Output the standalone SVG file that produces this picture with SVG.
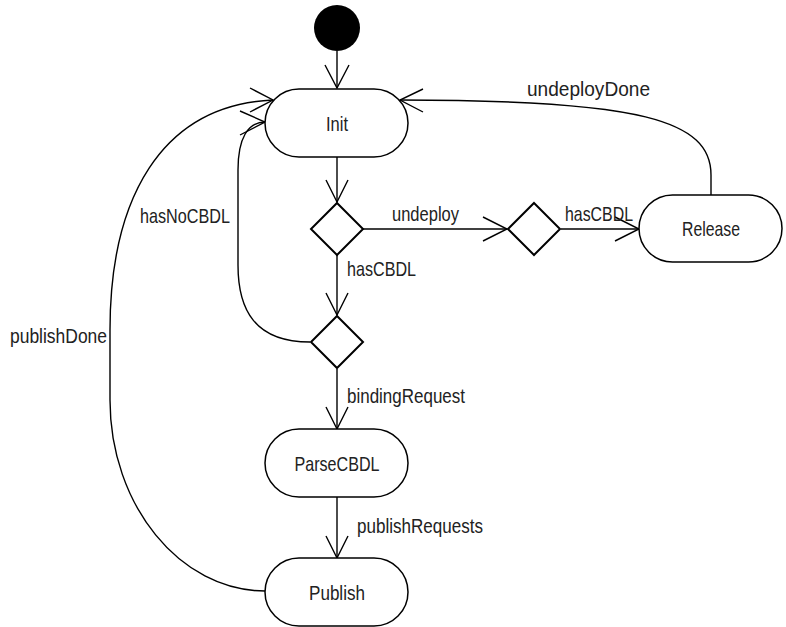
<svg xmlns="http://www.w3.org/2000/svg" width="786" height="627" viewBox="0 0 786 627">
<style>
.node{fill:#fff;stroke:#000;stroke-width:1.5}
.dia{fill:#fff;stroke:#000;stroke-width:2}
.edge{fill:none;stroke:#000;stroke-width:1.4}
.head{fill:none;stroke:#000;stroke-width:1.4}
text{font-family:"Liberation Sans",Arial,sans-serif;font-size:21px;fill:#222;dominant-baseline:central}
.c{text-anchor:middle}
</style>
<rect width="786" height="627" fill="#fff"/>
<g id="connectors">
  <path class="edge" d="M337,51 L337,88"/>
  <path class="head" d="M325,65 L337,88 L349,65"/>
  <path class="edge" d="M337,157 L337,202"/>
  <path class="head" d="M326,180 L337,202 L348,180"/>
  <path class="edge" d="M363,229 L507,229"/>
  <path class="head" d="M483,217 L507,229 L483,241"/>
  <path class="edge" d="M561,229 L639,229"/>
  <path class="head" d="M615,217 L639,229 L615,241"/>
  <path class="edge" d="M337,255 L337,315"/>
  <path class="head" d="M326,293 L337,315 L348,293"/>
  <path class="edge" d="M337,369 L337,429"/>
  <path class="head" d="M326,407 L337,429 L348,407"/>
  <path class="edge" d="M337,497 L337,558"/>
  <path class="head" d="M326,536 L337,558 L348,536"/>
  <path class="edge" d="M711,195 L711,175 C711,120 640,100 400,100"/>
  <path class="head" d="M423,89 L400,100 L423,112"/>
  <path class="edge" d="M310,342 C255,342 238,310 238,265 L238,170 C238,138 248,122 265,122"/>
  <path class="head" d="M240,111 L265,122 L240,135"/>
  <path class="edge" d="M265,591 C180,591 110,505 110,400 L110,330 C110,200 160,105 273,100"/>
  <path class="head" d="M250,88 L273,100 L250,112"/>
  <text x="527" y="88" textLength="123" lengthAdjust="spacingAndGlyphs">undeployDone</text>
  <text x="392" y="213" textLength="67" lengthAdjust="spacingAndGlyphs">undeploy</text>
  <text x="565" y="213" textLength="68" lengthAdjust="spacingAndGlyphs">hasCBDL</text>
  <text x="347" y="268" textLength="69" lengthAdjust="spacingAndGlyphs">hasCBDL</text>
  <text x="140" y="215" textLength="90" lengthAdjust="spacingAndGlyphs">hasNoCBDL</text>
  <text x="347" y="395" textLength="118" lengthAdjust="spacingAndGlyphs">bindingRequest</text>
  <text x="357" y="525" textLength="126" lengthAdjust="spacingAndGlyphs">publishRequests</text>
  <text x="10" y="335" textLength="97" lengthAdjust="spacingAndGlyphs">publishDone</text>
</g>
<g id="start"><circle cx="337" cy="28" r="23" fill="#000"/></g>
<g id="init"><rect class="node" x="265" y="89" width="143" height="68" rx="34"/><text class="c" x="337" y="123" textLength="22" lengthAdjust="spacingAndGlyphs">Init</text></g>
<g id="decision1"><polygon class="dia" points="337,203 363,229 337,255 311,229"/></g>
<g id="decision2"><polygon class="dia" points="534,203 560,229 534,255 508,229"/></g>
<g id="release"><rect class="node" x="639" y="195" width="143" height="67" rx="33.5"/><text class="c" x="711" y="228" textLength="58" lengthAdjust="spacingAndGlyphs">Release</text></g>
<g id="decision3"><polygon class="dia" points="337,316 363,342 337,368 311,342"/></g>
<g id="parsecbdl"><rect class="node" x="265" y="429" width="143" height="68" rx="34"/><text class="c" x="337" y="463" textLength="85" lengthAdjust="spacingAndGlyphs">ParseCBDL</text></g>
<g id="publish"><rect class="node" x="265" y="558" width="143" height="68" rx="34"/><text class="c" x="337" y="592" textLength="56" lengthAdjust="spacingAndGlyphs">Publish</text></g>
</svg>
